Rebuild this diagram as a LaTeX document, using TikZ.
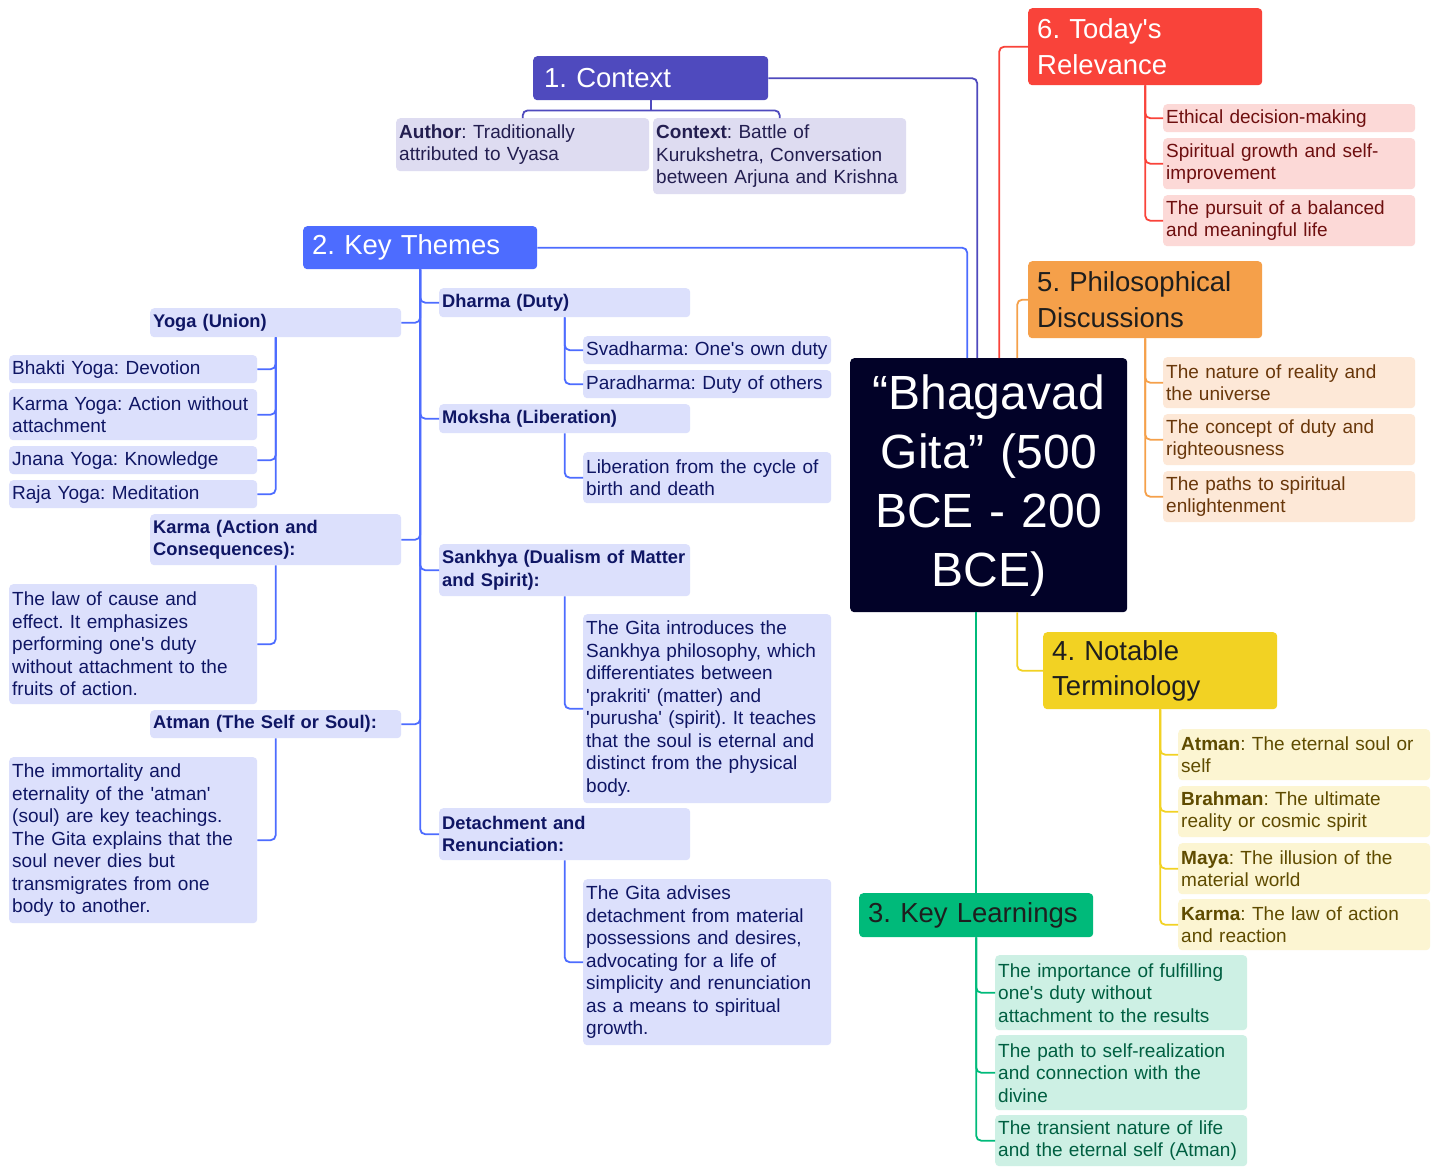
\documentclass[tikz,border=0pt]{standalone}
\usepackage{fontspec}
\setmainfont{Liberation Sans}[Ligatures=TeXOff]
\usepackage{xcolor}
\frenchspacing
\hyphenpenalty=10000
\definecolor{gitabg}{RGB}{2,2,40}
\definecolor{ctxmain}{RGB}{79,74,190}
\definecolor{ctxleaf}{RGB}{222,220,241}
\definecolor{ctxtext}{RGB}{35,30,80}
\definecolor{ktmain}{RGB}{77,108,255}
\definecolor{ktleaf}{RGB}{220,224,252}
\definecolor{kttext}{RGB}{15,22,100}
\definecolor{redmain}{RGB}{249,67,58}
\definecolor{redleaf}{RGB}{252,217,215}
\definecolor{redtext}{RGB}{110,15,15}
\definecolor{orgmain}{RGB}{245,160,74}
\definecolor{orgleaf}{RGB}{253,232,215}
\definecolor{orgtext}{RGB}{105,55,10}
\definecolor{ylwmain}{RGB}{242,210,35}
\definecolor{ylwleaf}{RGB}{252,245,210}
\definecolor{ylwtext}{RGB}{95,75,0}
\definecolor{grnmain}{RGB}{0,186,122}
\definecolor{grnleaf}{RGB}{205,240,228}
\definecolor{grntext}{RGB}{0,95,65}
\definecolor{darktitle}{RGB}{30,30,30}
\newcommand{\leafsize}{\fontsize{19}{22.5}\selectfont}
\newcommand{\headsize}{\fontsize{18.3}{22.5}\selectfont\bfseries}
\newcommand{\titlesize}{\fontsize{27.5}{35.5}\selectfont}

\begin{document}
\begin{tikzpicture}[x=1pt,y=-1pt,
  box/.style={anchor=north west,rounded corners=4pt,inner xsep=3pt,inner ysep=0pt,align=left,font=\leafsize},
  title/.style={box,inner xsep=9pt,text width=216pt,font=\titlesize},
  cleaf/.style={box,fill=ctxleaf,text=ctxtext,text width=247pt},
  khead/.style={box,fill=ktleaf,text=kttext,text width=245pt,font=\headsize},
  kleaf/.style={box,fill=ktleaf,text=kttext,text width=242pt},
  rleaf/.style={box,fill=redleaf,text=redtext,text width=246pt},
  oleaf/.style={box,fill=orgleaf,text=orgtext,text width=246pt},
  yleaf/.style={box,fill=ylwleaf,text=ylwtext,text width=246pt},
  gleaf/.style={box,fill=grnleaf,text=grntext,text width=246pt},
  wire/.style={line width=1.8pt,rounded corners=5pt},
  cwire/.style={wire,draw=ctxmain},
  kwire/.style={wire,draw=ktmain},
  rwire/.style={wire,draw=redmain},
  owire/.style={wire,draw=orgmain},
  ywire/.style={wire,draw=ylwmain},
  gwire/.style={wire,draw=grnmain}]
  \useasboundingbox (0,0) rectangle (1433,1167);
  \fill[white] (0,0) rectangle (1433,1167);

  % centre
  \node[box,fill=gitabg,text=white,align=center,text width=271pt,minimum height=254pt,
    font=\fontsize{48}{59}\selectfont] (gita) at (850,358)
    {“Bhagavad\\Gita” (500\\BCE - 200\\BCE)};

  % main branches
  \node[title,fill=ctxmain,text=white,inner xsep=11pt,text width=213pt,minimum height=44pt] (ctx) at (533,56) {1. Context};
  \node[title,fill=ktmain,text=white,minimum height=43pt] (kt) at (303,226) {2. Key Themes};
  \node[title,fill=grnmain,text=darktitle,minimum height=44pt] (t3) at (859,893) {3. Key Learnings};
  \node[title,fill=ylwmain,text=darktitle,minimum height=77pt] (t4) at (1043,632) {4. Notable\\Terminology};
  \node[title,fill=orgmain,text=darktitle,minimum height=77pt] (t5) at (1028,261) {5. Philosophical\\Discussions};
  \node[title,fill=redmain,text=white,minimum height=77pt] (t6) at (1028,8) {6. Today's\\Relevance};

  \draw[cwire] (ctx.east) -| ([xshift=-11.5pt]gita.north);
  \draw[kwire] (kt.east) -| ([xshift=-21.5pt]gita.north);
  \draw[rwire] (t6.west) -| ([xshift=10.5pt]gita.north);
  \draw[owire] (t5.west) -| ([xshift=28.5pt]gita.north);
  \draw[ywire] ([xshift=28.5pt]gita.south) |- (t4.west);
  \draw[gwire] (gita.south -| t3.north) -- (t3.north);

  % 1. Context
  \node[cleaf,minimum height=53pt] (author) at (396,118) {\textbf{Author}: Traditionally\\attributed to Vyasa};
  \node[cleaf,minimum height=76pt] (setting) at (653,118) {\textbf{Context}: Battle of\\Kurukshetra, Conversation\\between Arjuna and Krishna};
  \draw[cwire] (ctx.south) -- ([yshift=-10pt]ctx.south);
  \draw[cwire] (author.north) |- ([yshift=-10pt]ctx.south) -| (setting.north);

  % 2. Key Themes
  \node[khead,minimum height=29pt] (yoga) at (150,308) {Yoga (Union)};
  \node[khead,minimum height=51pt] (karma) at (150,514) {Karma (Action and\\Consequences):};
  \node[khead,minimum height=28pt] (atman) at (150,710) {Atman (The Self or Soul):};
  \node[khead,minimum height=29pt] (dharma) at (439,288) {Dharma (Duty)};
  \node[khead,minimum height=29pt] (moksha) at (439,404) {Moksha (Liberation)};
  \node[khead,minimum height=52pt] (sankhya) at (439,544) {Sankhya (Dualism of Matter\\and Spirit):};
  \node[khead,minimum height=52pt] (detach) at (439,808) {Detachment and\\Renunciation:};
  \foreach \c in {yoga,karma,atman} \draw[kwire] (kt.south) |- (\c.east);
  \foreach \c in {dharma,moksha,sankhya,detach} \draw[kwire] (kt.south) |- (\c.west);

  \node[kleaf,minimum height=28pt] (bhakti) at (9,355) {Bhakti Yoga: Devotion};
  \node[kleaf,minimum height=51pt] (karmayoga) at (9,389) {Karma Yoga: Action without\\attachment};
  \node[kleaf,minimum height=28pt] (jnana) at (9,446) {Jnana Yoga: Knowledge};
  \node[kleaf,minimum height=28pt] (raja) at (9,480) {Raja Yoga: Meditation};
  \foreach \c in {bhakti,karmayoga,jnana,raja} \draw[kwire] (yoga.south) |- (\c.east);

  \node[kleaf,minimum height=120pt] (karmatext) at (9,584)
    {The law of cause and\\effect. It emphasizes\\performing one's duty\\without attachment to the\\fruits of action.};
  \draw[kwire] (karma.south) |- (karmatext.east);
  \node[kleaf,minimum height=166pt] (atmantext) at (9,757)
    {The immortality and\\eternality of the 'atman'\\(soul) are key teachings.\\The Gita explains that the\\soul never dies but\\transmigrates from one\\body to another.};
  \draw[kwire] (atman.south) |- (atmantext.east);

  \node[kleaf,minimum height=28pt] (svadharma) at (583,336) {Svadharma: One's own duty};
  \node[kleaf,minimum height=28pt] (paradharma) at (583,370) {Paradharma: Duty of others};
  \foreach \c in {svadharma,paradharma} \draw[kwire] (dharma.south) |- (\c.west);
  \node[kleaf,minimum height=51pt] (liberation) at (583,452) {Liberation from the cycle of\\birth and death};
  \draw[kwire] (moksha.south) |- (liberation.west);
  \node[kleaf,minimum height=189pt] (sankhyatext) at (583,614)
    {The Gita introduces the\\Sankhya philosophy, which\\differentiates between\\'prakriti' (matter) and\\'purusha' (spirit). It teaches\\that the soul is eternal and\\distinct from the physical\\body.};
  \draw[kwire] (sankhya.south) |- (sankhyatext.west);
  \node[kleaf,minimum height=166pt] (detachtext) at (583,879)
    {The Gita advises\\detachment from material\\possessions and desires,\\advocating for a life of\\simplicity and renunciation\\as a means to spiritual\\growth.};
  \draw[kwire] (detach.south) |- (detachtext.west);

  % 3. Key Learnings
  \node[gleaf,minimum height=75pt] (duty) at (995,955) {The importance of fulfilling\\one's duty without\\attachment to the results};
  \node[gleaf,minimum height=75pt] (selfreal) at (995,1035) {The path to self-realization\\and connection with the\\divine};
  \node[gleaf,minimum height=51pt] (transient) at (995,1115) {The transient nature of life\\and the eternal self (Atman)};
  \foreach \c in {duty,selfreal,transient} \draw[gwire] (t3.south) |- (\c.west);

  % 4. Notable Terminology
  \node[yleaf,minimum height=51pt] (termatman) at (1178,729) {\textbf{Atman}: The eternal soul or\\self};
  \node[yleaf,minimum height=51pt] (brahman) at (1178,786) {\textbf{Brahman}: The ultimate\\reality or cosmic spirit};
  \node[yleaf,minimum height=51pt] (maya) at (1178,843) {\textbf{Maya}: The illusion of the\\material world};
  \node[yleaf,minimum height=51pt] (termkarma) at (1178,899) {\textbf{Karma}: The law of action\\and reaction};
  \foreach \c in {termatman,brahman,maya,termkarma} \draw[ywire] (t4.south) |- (\c.west);

  % 5. Philosophical Discussions
  \node[oleaf,minimum height=51pt] (reality) at (1163,357) {The nature of reality and\\the universe};
  \node[oleaf,minimum height=51pt] (concept) at (1163,414) {The concept of duty and\\righteousness};
  \node[oleaf,minimum height=51pt] (paths) at (1163,471) {The paths to spiritual\\enlightenment};
  \foreach \c in {reality,concept,paths} \draw[owire] (t5.south) |- (\c.west);

  % 6. Today's Relevance
  \node[rleaf,minimum height=28pt] (ethical) at (1163,104) {Ethical decision-making};
  \node[rleaf,minimum height=51pt] (growth) at (1163,138) {Spiritual growth and self-\\improvement};
  \node[rleaf,minimum height=51pt] (balance) at (1163,195) {The pursuit of a balanced\\and meaningful life};
  \foreach \c in {ethical,growth,balance} \draw[rwire] (t6.south) |- (\c.west);
\end{tikzpicture}
\end{document}
